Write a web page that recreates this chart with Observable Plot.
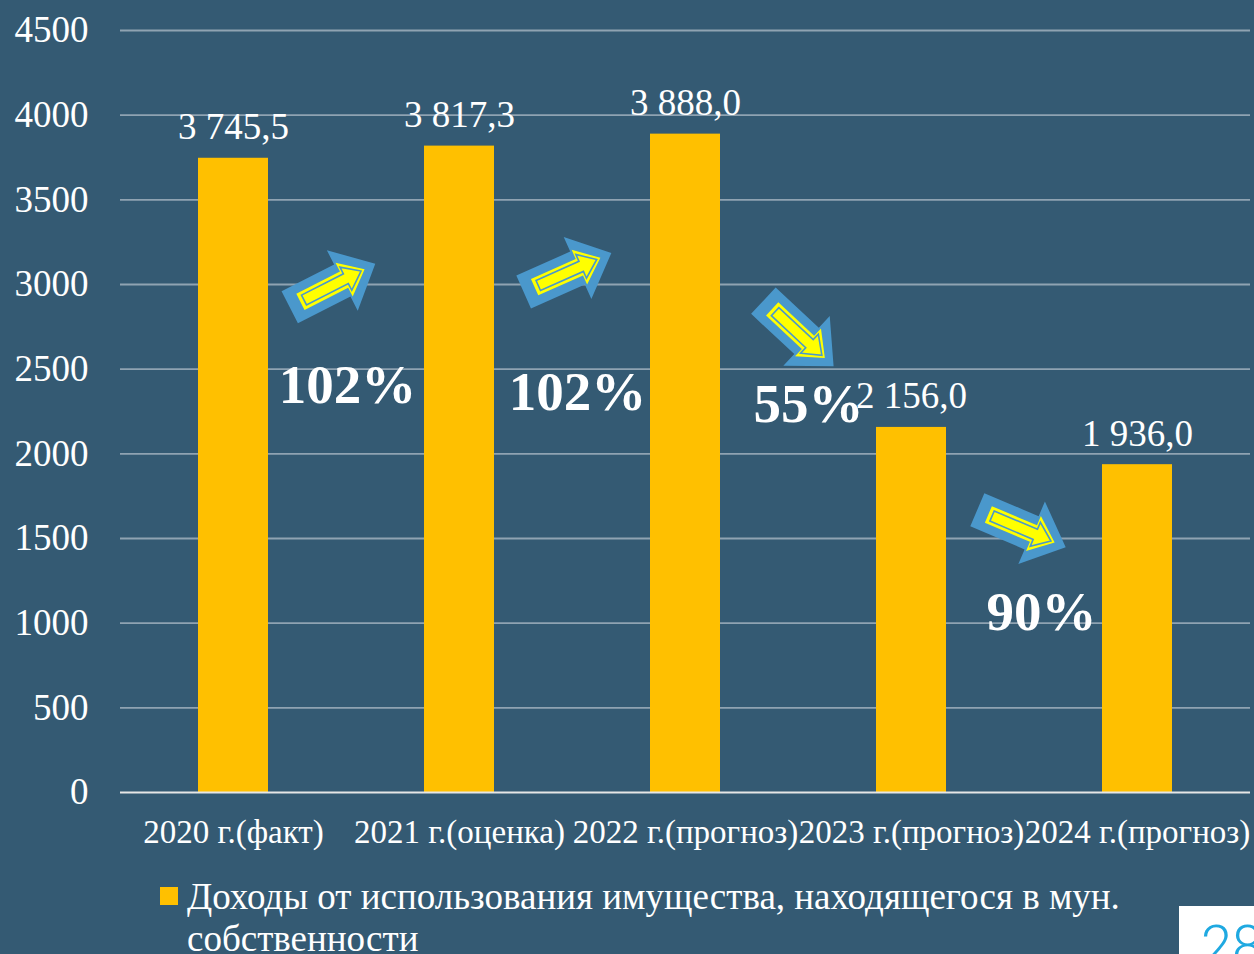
<!DOCTYPE html>
<html><head><meta charset="utf-8">
<script src="https://cdn.jsdelivr.net/npm/d3@7"></script>
<script src="https://cdn.jsdelivr.net/npm/@observablehq/plot@0.6"></script>
<style>
html,body{margin:0;padding:0;background:#345a73;width:1254px;height:954px;overflow:hidden;position:relative;font-family:"Liberation Serif","Times New Roman",serif;}
#legend{position:absolute;left:160px;top:876px;color:#fff;font-size:37px;line-height:42px;width:1000px;}
#legend .sw{position:absolute;left:0;top:11px;width:18px;height:18px;background:#ffc000;}
#legend .tx{margin-left:27px;}
#page{position:absolute;left:1179px;top:906px;width:75px;height:48px;background:#fff;overflow:hidden;}
#page span{position:absolute;left:22px;top:12px;font-family:Roboto,sans-serif;font-weight:300;font-size:56px;line-height:56px;color:#1fa9e1;}
</style></head>
<body>
<div id="chart"></div>
<div id="legend"><div class="sw"></div><div class="tx">Доходы от использования имущества, находящегося в мун. собственности</div></div>
<div id="page"><span>28</span></div>
<script>
const categories = ["2020 г.(факт)", "2021 г.(оценка)", "2022 г.(прогноз)", "2023 г.(прогноз)", "2024 г.(прогноз)"];
const values = [3745.5, 3817.3, 3888.0, 2156.0, 1936.0];
const valueLabels = ["3 745,5", "3 817,3", "3 888,0", "2 156,0", "1 936,0"];
const yTicks = [0, 500, 1000, 1500, 2000, 2500, 3000, 3500, 4000, 4500];
const pctLabels = ["102%", "102%", "55%", "90%"];
const pctY = [2404, 2362, 2291, 1063];
const arrowY = [2994, 3071, 2711, 1559];
const arrowAngle = [-27, -24, 43, 23];

const data = categories.map((c, i) => ({cat: c, value: values[i], label: valueLabels[i]}));
const FONT = "Liberation Serif, Times New Roman, serif";

function arrowSymbol(L, sw, hw, hl, angle) {
  const a = angle * Math.PI / 180, c = Math.cos(a), s = Math.sin(a);
  const pts = [[-L/2,-sw],[L/2-hl,-sw],[L/2-hl,-hw],[L/2,0],[L/2-hl,hw],[L/2-hl,sw],[-L/2,sw]];
  return {draw(ctx) {
    pts.forEach(([x, y], i) => {
      const X = x*c - y*s, Y = x*s + y*c;
      if (i === 0) ctx.moveTo(X, Y); else ctx.lineTo(X, Y);
    });
    ctx.closePath();
  }};
}

const arrowDx = [99, 108, 113, 110];
const pctDx = [114, 118, 123, 130];

const marks = [
  Plot.ruleY(yTicks.filter(d => d > 0), {stroke: "#8fa3b2", strokeWidth: 1.8}),
  Plot.barY(data, {x: "cat", y: "value", fill: "#ffc000"}),
  Plot.ruleY([0], {stroke: "#e6e6e6", strokeWidth: 2}),
  Plot.text(data, {x: "cat", y: "value", text: "label", dy: -19, lineAnchor: "bottom", fill: "#fff", fontSize: 37, fontFamily: FONT})
];
arrowY.forEach((yv, i) => {
  const d = [{cat: categories[i], y: yv}];
  marks.push(Plot.dot(d, {x: "cat", y: "y", dx: arrowDx[i], symbol: arrowSymbol(96, 18, 34, 37, arrowAngle[i]), fill: "#4a98cc", stroke: "none"}));
  marks.push(Plot.dot(d, {x: "cat", y: "y", dx: arrowDx[i], symbol: arrowSymbol(72, 9, 19, 23, arrowAngle[i]), fill: "#ffff00", stroke: "none"}));
  marks.push(Plot.dot(d, {x: "cat", y: "y", dx: arrowDx[i], symbol: arrowSymbol(64, 5.5, 13, 17, arrowAngle[i]), fill: "#ffff00", stroke: "#4a98cc", strokeWidth: 1.6}));
});
pctY.forEach((yv, i) => {
  marks.push(Plot.text([{cat: categories[i], y: yv, t: pctLabels[i]}], {x: "cat", y: "y", text: "t", dx: pctDx[i], fill: "#fff", fontSize: 55, fontWeight: "bold", fontFamily: FONT}));
});
marks.push(Plot.axisY({ticks: yTicks, tickSize: 0, tickPadding: 32, fontSize: 37, fill: "#fff", label: null, fontFamily: FONT, tickFormat: d => String(d)}));
marks.push(Plot.axisX({tickSize: 0, tickPadding: 27, fontSize: 33, fill: "#fff", label: null, fontFamily: FONT}));

const chart = Plot.plot({
  width: 1254,
  height: 862,
  marginTop: 30,
  marginBottom: 70,
  marginLeft: 120,
  marginRight: 4,
  style: {background: "transparent", color: "#fff", fontFamily: FONT},
  x: {domain: categories, paddingInner: 0.69, paddingOuter: 0.345, label: null},
  y: {domain: [0, 4500], label: null},
  marks
});
document.getElementById("chart").appendChild(chart);
</script>
</body></html>
